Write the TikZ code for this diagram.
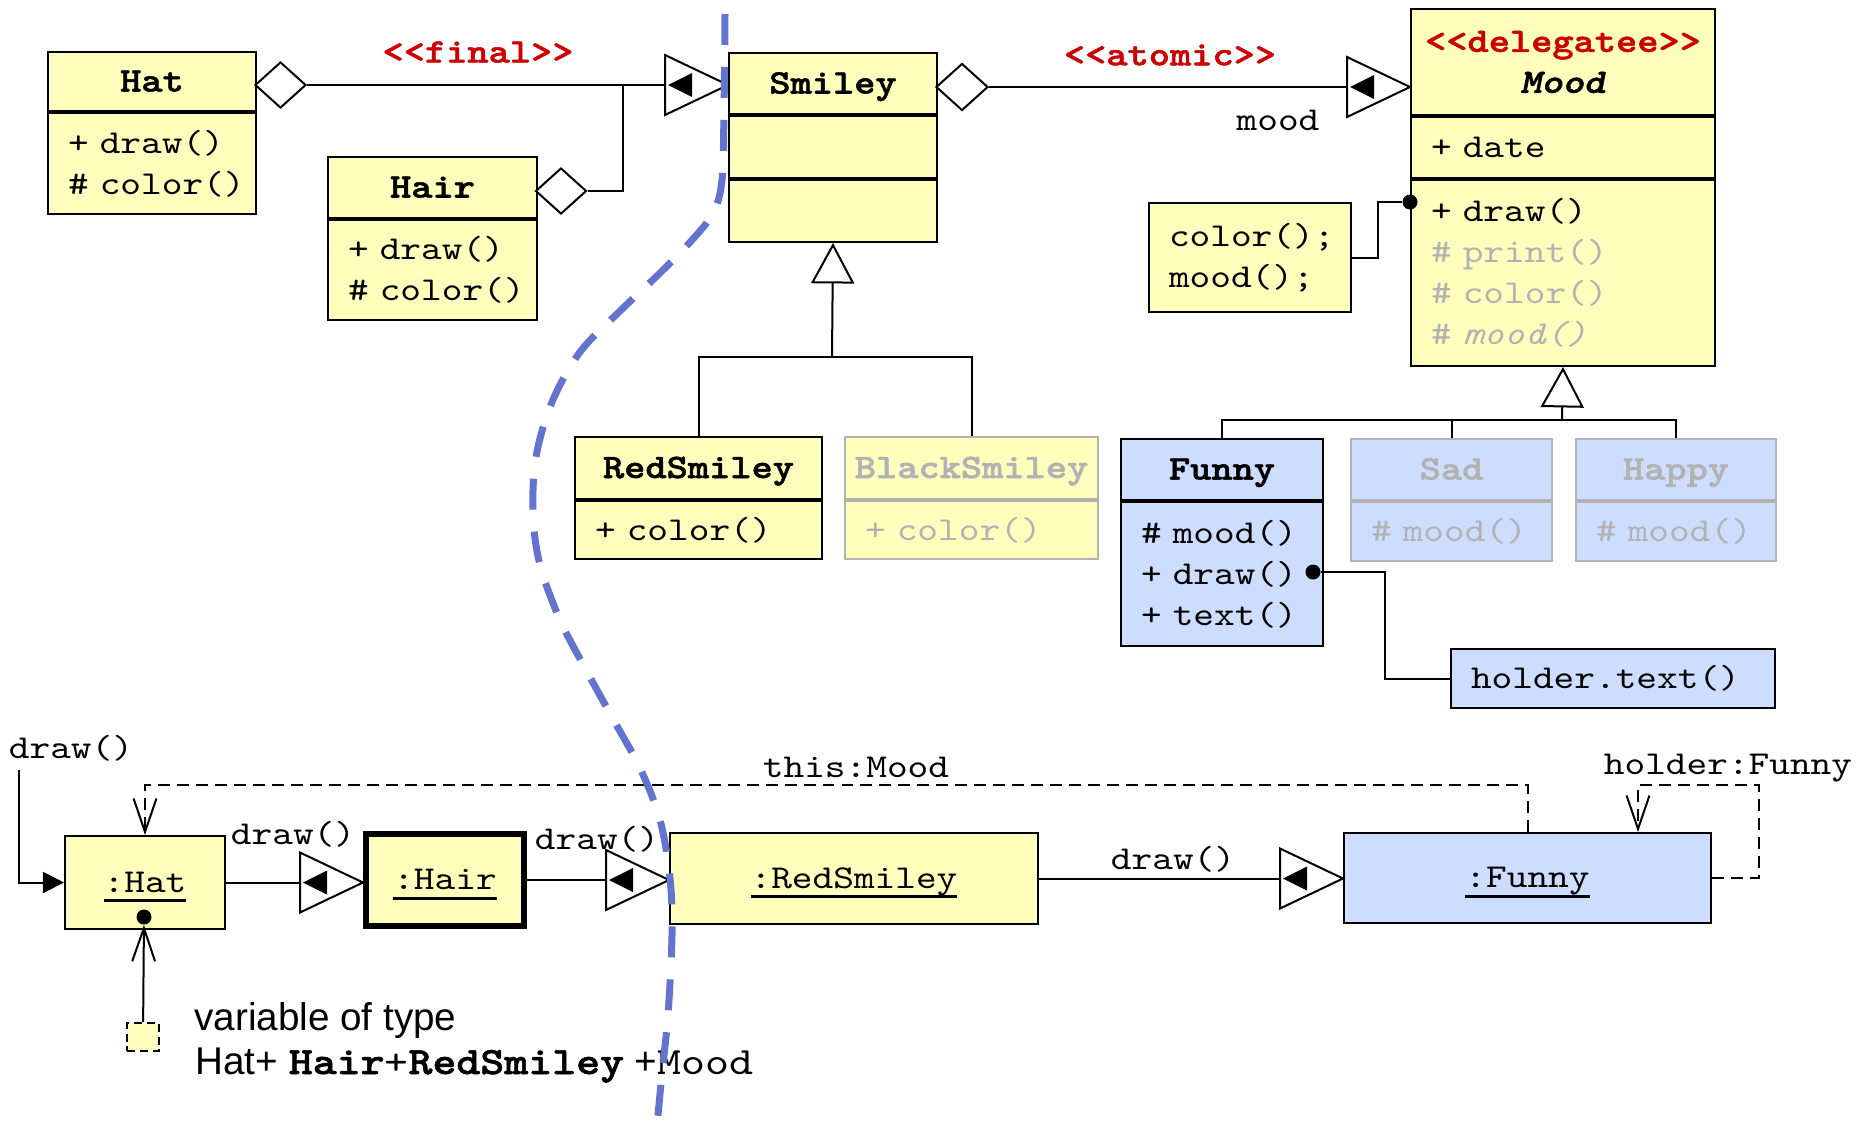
\documentclass[tikz,border=0pt]{standalone}
\usepackage{fontspec}
\setsansfont{Liberation Sans}
\setmonofont{lmmono10-regular.otf}[FakeStretch=1.18, ItalicFont=lmmono10-italic.otf, BoldFont=lmmonolt10-bold.otf, BoldItalicFont=lmmonolt10-boldoblique.otf, BoldFeatures={FakeBold=1.5}, BoldItalicFeatures={FakeBold=1.5}]
\usepackage{xcolor}
\usepackage{tikz}
\usetikzlibrary{shapes.geometric}
\usetikzlibrary{arrows.meta}
\definecolor{umlyellow}{RGB}{255, 255, 189}
\definecolor{umlblue}{RGB}{204, 221, 255}
\definecolor{stereored}{RGB}{204, 0, 0}
\definecolor{fadegray}{RGB}{178, 178, 178}
\definecolor{cutblue}{RGB}{99, 115, 206}

\newlength{\pxl}
\setlength{\pxl}{0.02cm}
\newcommand{\opsfont}{\ttfamily\fontsize{19}{23.3}\selectfont}
\newcommand{\clsfont}{\ttfamily\bfseries\fontsize{19.5}{23.3}\selectfont}
\newcommand{\varfont}{\fontsize{22}{25}\selectfont}
\newsavebox{\objbox}
\newcommand{\objname}[1]{\sbox{\objbox}{#1}\rlap{\rule[-10\pxl]{\wd\objbox}{3\pxl}}\usebox{\objbox}}

\tikzset{
  umlbox/.style={draw, line width=2\pxl, fill=umlyellow, anchor=north west, inner sep=0pt},
  clshead/.style={umlbox, font=\clsfont, text height=20\pxl, text depth=0pt},
  clsbody/.style={umlbox, font=\opsfont, align=left, inner xsep=20\pxl},
  faded/.style={draw=fadegray, text=fadegray},
  bluebox/.style={fill=umlblue},
  obj/.style={draw, line width=2\pxl, fill=umlyellow, inner sep=0pt, font=\opsfont, text height=19\pxl, text depth=0pt},
  aggr/.style={diamond, draw, fill=white, line width=2\pxl, minimum width=51\pxl, minimum height=46\pxl, inner sep=0pt},
  dot/.style={circle, fill, inner sep=0pt, minimum size=15\pxl},
  lbl/.style={font=\opsfont, inner sep=0pt},
  stereo/.style={font=\clsfont, text=stereored, inner sep=0pt},
  varbox/.style={draw, dash pattern=on 4.5pt off 2.8pt, line width=2\pxl, fill=umlyellow, minimum width=32\pxl, minimum height=28\pxl, inner sep=0pt},
  conn/.style={line width=2\pxl},
  gen/.style={conn, -{Triangle[open, length=23pt, width=24.5pt]}},
  call/.style={conn, -{Triangle[length=12pt, width=12pt]}},
  ref/.style={conn, dash pattern=on 6.8pt off 4pt, -{Straight Barb[length=19pt, width=13pt]}},
  cutline/.style={draw=cutblue, line width=7\pxl, dash pattern=on 0.62cm off 0.44cm},
  navtip/.pic={
    \draw[fill=white, line width=2\pxl] (0,0) -- (-63,-30) -- (-63,30) -- cycle;
    \fill (-60,0) -- (-36,-12) -- (-36,12) -- cycle;
  }
}

\begin{document}
\begin{tikzpicture}[x=0.02cm, y=-0.02cm]
\useasboundingbox (0,0) rectangle (1872,1126);

% classes
\node[clshead, minimum width=208\pxl, minimum height=59\pxl] (hat) at (47,51) {Hat};
\node[clsbody, text width=168\pxl, minimum height=101\pxl] (hatops) at (hat.south west) {+~draw()\\\#~color()};

\node[clshead, minimum width=209\pxl, minimum height=61\pxl] (hair) at (327,156) {Hair};
\node[clsbody, text width=169\pxl, minimum height=100\pxl] (hairops) at (hair.south west) {+~draw()\\\#~color()};

\node[clshead, minimum width=208\pxl, minimum height=61\pxl] (smiley) at (728,52) {Smiley};
\node[umlbox, minimum width=208\pxl, minimum height=62\pxl] (smileyattr) at (smiley.south west) {};
\node[umlbox, minimum width=208\pxl, minimum height=62\pxl] (smileyops) at (smileyattr.south west) {};

\node[umlbox, font=\clsfont, align=center, minimum width=304\pxl, minimum height=106\pxl] (mood) at (1410,8) {\textcolor{stereored}{<{}<delegatee>{}>}\\\textit{Mood}};
\node[clsbody, text width=264\pxl, minimum height=61\pxl] (moodattr) at (mood.south west) {+~date};
\node[clsbody, text width=264\pxl, minimum height=186\pxl] (moodops) at (moodattr.south west) {+~draw()\\\textcolor{fadegray}{\#~print()}\\\textcolor{fadegray}{\#~color()}\\\textcolor{fadegray}{\#~\textit{mood()}}};

\node[clshead, minimum width=247\pxl, minimum height=62\pxl] (redsmiley) at (574,436) {RedSmiley};
\node[clsbody, text width=207\pxl, minimum height=58\pxl] (redsmileyops) at (redsmiley.south west) {+~color()};

\node[clshead, faded, minimum width=253\pxl, minimum height=62\pxl] (blacksmiley) at (844,436) {BlackSmiley};
\node[clsbody, faded, text width=213\pxl, minimum height=58\pxl] (blacksmileyops) at (blacksmiley.south west) {+~color()};

\node[clshead, bluebox, minimum width=202\pxl, minimum height=61\pxl] (funny) at (1120,438) {Funny};
\node[clsbody, bluebox, text width=162\pxl, minimum height=144\pxl] (funnyops) at (funny.south west) {\#~mood()\\+~draw()\\+~text()};

\node[clshead, bluebox, faded, minimum width=201\pxl, minimum height=61\pxl] (sad) at (1350,438) {Sad};
\node[clsbody, bluebox, faded, text width=161\pxl, minimum height=59\pxl] (sadops) at (sad.south west) {\#~mood()};

\node[clshead, bluebox, faded, minimum width=200\pxl, minimum height=61\pxl] (happy) at (1575,438) {Happy};
\node[clsbody, bluebox, faded, text width=160\pxl, minimum height=59\pxl] (happyops) at (happy.south west) {\#~mood()};

\node[clsbody, text width=162\pxl, minimum height=109\pxl] (colornote) at (1148,202) {color();\\mood();};
\node[clsbody, bluebox, text width=284\pxl, minimum height=59\pxl] (holdernote) at (1450,648) {holder.text()};

% aggregations
\node[aggr] (hatdia) at (280.5,85) {};
\node[aggr] (hairdia) at (561,191) {};
\node[aggr, minimum width=52\pxl, minimum height=47\pxl] (smileydia) at (962,87) {};
\coordinate (finaljoin) at (623,85);

\draw[conn] (hatdia.east) -- (hatdia.east -| smiley.west);
\draw[conn] (hairdia.east) -| (finaljoin);
\pic at (hatdia.east -| smiley.west) {navtip};
\draw[conn] (smileydia.east) -- (smileydia.east -| mood.west);
\pic at (smileydia.east -| mood.west) {navtip};

\node[stereo] (finallbl) at (478,52) {<{}<final>{}>};
\node[stereo] (atomiclbl) at (1170,55) {<{}<atomic>{}>};
\node[lbl] (moodrole) at (1278,120) {mood};

% inheritance
\coordinate (smileytree) at (832,357);
\draw[gen] (smileytree) -- (smileyops.south);
\draw[conn] (redsmiley.north) |- (smileytree) -| (blacksmiley.north);

\coordinate (moodtree) at (1562,420);
\draw[gen] (moodtree) -- (moodops.south);
\draw[conn] (funny.north) |- (moodtree) -| (happy.north);
\draw[conn] (sad.north) -- (sad.north |- moodtree);

% notes
\node[dot] (moodpin) at (1410,202) {};
\draw[conn] (colornote.east) -- ++(26,0) |- (moodpin);
\node[dot] (funnypin) at (1313,572) {};
\draw[conn] (funnypin) -- ++(72,0) |- (holdernote.west);

% objects
\node[obj, minimum width=160\pxl, minimum height=93\pxl] (ohat) at (145,882.5) {\objname{:Hat}};
\node[obj, line width=6\pxl, minimum width=158\pxl, minimum height=92\pxl] (ohair) at (445,880) {\objname{:Hair}};
\node[obj, minimum width=368\pxl, minimum height=91\pxl] (oredsmiley) at (854,878.5) {\objname{:RedSmiley}};
\node[obj, bluebox, minimum width=367\pxl, minimum height=90\pxl] (ofunny) at (1527.5,878) {\objname{:Funny}};

\coordinate (entry) at (19,770);
\draw[call] (entry) |- (ohat.west);
\node[lbl] (entrylbl) at (71,748) {draw()};

\draw[conn] (ohat.east) -- (ohat.east -| ohair.west);
\pic at (ohat.east -| ohair.west) {navtip};
\node[lbl] (drawlbl1) at (293,834) {draw()};

\draw[conn] (ohair.east) -- (ohair.east -| oredsmiley.west);
\pic at (ohair.east -| oredsmiley.west) {navtip};
\node[lbl] (drawlbl2) at (597,839) {draw()};

\draw[conn] (oredsmiley.east) -- (oredsmiley.east -| ofunny.west);
\pic at (oredsmiley.east -| ofunny.west) {navtip};
\node[lbl] (drawlbl3) at (1173,859) {draw()};

\coordinate (thistop) at (145,785);
\draw[ref] (ofunny.north) |- (thistop) -- (ohat.north);
\node[lbl] (thislbl) at (856,767) {this:Mood};

\coordinate (holdtop) at (1638,785);
\draw[ref] (ofunny.east) -- ++(47,0) |- (holdtop) -- (holdtop |- ofunny.north);
\node[lbl] (holderlbl) at (1728,768) {holder:Funny};

% variable
\node[dot] (hatpin) at (144,917) {};
\node[varbox] (hatvar) at (143,1037) {};
\draw[conn, -{Straight Barb[length=19pt, width=13pt]}] (hatvar) -- (hatpin);
\node[font=\varfont\sffamily, anchor=base west, inner sep=0pt] (vartype) at (194,1030) {variable of type};
\node[font=\varfont, anchor=base west, inner sep=0pt] (vartypes) at (195,1074) {\sffamily Hat+ \ttfamily\bfseries Hair\mdseries+\bfseries RedSmiley\sffamily\mdseries{} +\ttfamily Mood};

% border line
\draw[cutline] plot[smooth, tension=0.55] coordinates {(725,14) (724,110) (722,180) (713,213) (692,240) (660,273) (620,311) (580,352) (552,402) (536,457) (533,514) (540,565) (560,620) (585,668) (613,719) (640,768) (660,820) (670,878) (672,935) (668,1015) (662,1073) (657,1126)};

\end{tikzpicture}
\end{document}
